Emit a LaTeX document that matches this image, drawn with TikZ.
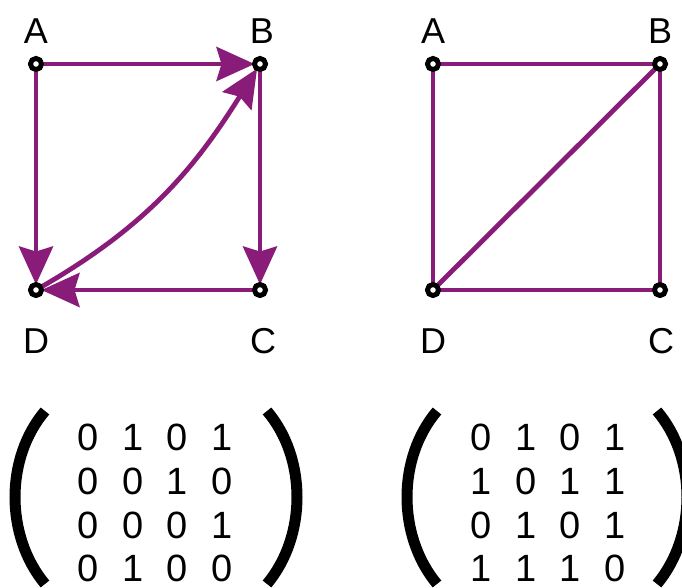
\documentclass[tikz,border=0pt]{standalone}
\usepackage{fontspec}
\setmainfont{Liberation Sans}
\usetikzlibrary{arrows.meta}
\definecolor{edgepurple}{RGB}{136,28,120}
\tikzset{
  vert/.style={circle,draw=black,fill=white,line width=4.8pt,minimum size=11pt,inner sep=0pt,outer sep=0pt},
  lbl/.style={font=\fontsize{36}{36}\selectfont,inner sep=0pt},
  digit/.style={font=\fontsize{38}{38}\selectfont,inner sep=0pt},
  edge/.style={draw=edgepurple,line width=4.8pt},
  arr/.style={edge,-{Stealth[length=38pt,width=34pt,inset=5pt]}},
  paren/.style={draw=black,line width=11pt}
}
\begin{document}
\begin{tikzpicture}[x=1pt,y=1pt]
\useasboundingbox (0,0) rectangle (682,588);
% left graph
\node[vert] (A) at (36,524) {};
\node[vert] (B) at (260,524) {};
\node[vert] (D) at (36,298) {};
\node[vert] (C) at (260,298) {};
\node[lbl] (lA) at (36,557) {A};
\node[lbl] (lB) at (262,557) {B};
\node[lbl] (lD) at (36,247) {D};
\node[lbl] (lC) at (263,247) {C};
\draw[arr] (A) -- (B);
\draw[arr] (A) -- (D);
\draw[arr] (B) -- (C);
\draw[arr] (C) -- (D);
\draw[arr] (D) to[out=30,in=-122] (B);
\node[vert] at (A) {};
\node[vert] at (B) {};
\node[vert] at (C) {};
\node[vert] at (D) {};
% right graph
\node[vert] (A2) at (433,524) {};
\node[vert] (B2) at (660,524) {};
\node[vert] (D2) at (433,298) {};
\node[vert] (C2) at (660,298) {};
\node[lbl] (lA2) at (433,557) {A};
\node[lbl] (lB2) at (660,557) {B};
\node[lbl] (lD2) at (433,247) {D};
\node[lbl] (lC2) at (661,247) {C};
\draw[edge] (A2) -- (B2);
\draw[edge] (A2) -- (D2);
\draw[edge] (B2) -- (C2);
\draw[edge] (D2) -- (C2);
\draw[edge] (D2) -- (B2);
\node[vert] at (A2) {};
\node[vert] at (B2) {};
\node[vert] at (C2) {};
\node[vert] at (D2) {};
% matrices
\foreach \r/\y/\row in {1/151/{0,1,0,1},2/107/{0,0,1,0},3/63/{0,0,0,1},4/20/{0,1,0,0}}{
  \foreach \v [count=\c] in \row {
    \pgfmathsetmacro{\xx}{88+44.7*(\c-1)}
    \node[digit] (m\r\c) at (\xx,\y) {\v};
  }
}
\foreach \r/\y/\row in {1/151/{0,1,0,1},2/107/{1,0,1,1},3/63/{0,1,0,1},4/20/{1,1,1,0}}{
  \foreach \v [count=\c] in \row {
    \pgfmathsetmacro{\xx}{481+44.7*(\c-1)}
    \node[digit] (n\r\c) at (\xx,\y) {\v};
  }
}
\draw[paren] (45,177) .. controls (5,130) and (5,52) .. (45,4);
\draw[paren] (267,177) .. controls (307,130) and (307,52) .. (267,4);
\draw[paren] (437,177) .. controls (397,130) and (397,52) .. (437,4);
\draw[paren] (657,177) .. controls (697,130) and (697,52) .. (657,4);
\end{tikzpicture}
\end{document}
